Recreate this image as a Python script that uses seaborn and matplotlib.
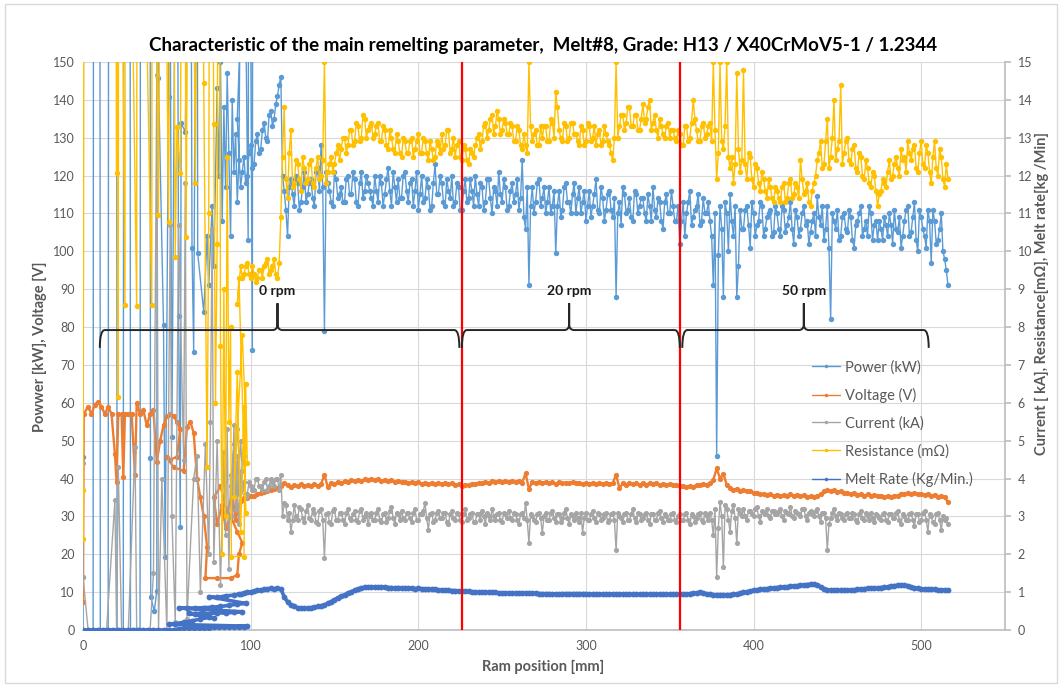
import numpy as np
import matplotlib
matplotlib.use("Agg")
import matplotlib.pyplot as plt
import seaborn as sns
from matplotlib.path import Path
from matplotlib.patches import PathPatch, Rectangle
from matplotlib.lines import Line2D

sns.set_theme(style="white")
plt.rcParams["font.family"] = ["Lato", "DejaVu Sans"]

# ---------------- data ----------------
TITLE = "Characteristic of the main remelting parameter,  Melt#8, Grade: H13 / X40CrMoV5-1 / 1.2344"
X_LABEL = "Ram position [mm]"
Y_LEFT_LABEL = "Powwer [kW], Voltage [V]"
Y_RIGHT_LABEL = "Current [ kA], Resistance[mΩ], Melt rate[kg /Min]"
SERIES_NAMES = ["Power (kW)", "Voltage (V)", "Current (kA)", "Resistance (mΩ)", "Melt Rate (Kg/Min.)"]

# sampling positions of the stable part of the melt (every 2 mm, plus the in-between samples)
RAM_MAIN = np.arange(94, 517, 2)
RAM_MID = np.arange(95, 516, 2)

# start-up phase (unstable arc) : (ram position, value)
POWER_START = [(0, 45.7), (0, 0), (3, 0), (6, 0), (6.3, 250), (10, 250), (10.3, 0), (13, 0), (15, 0),
               (15.3, 250), (20, 250), (20.3, 0), (22, 0), (24, 0), (24.3, 250), (28, 250), (28.3, 0),
               (31, 0), (34, 0), (34.3, 250), (40, 250), (40.2, 45.4), (40.4, 8.8), (42.5, 4.9), (44, 10.4),
               (44.3, 250), (45, 145.7), (48, 80.5), (49, 19.4), (51, 140.7), (51.3, 250), (53, 51), (56, 250),
               (57, 83), (58, 27.3), (58.5, 133.9), (61, 131.5), (64, 250), (65, 101), (66, 73.5), (68, 250),
               (68.4, 99.5), (72, 84), (74, 104), (75, 91), (77, 112), (78, 96), (80, 143), (81, 120), (82, 150),
               (83, 108), (84, 138), (85, 117), (86, 147), (87, 126), (88, 104), (89, 140), (90, 121), (91, 131),
               (92, 113), (93, 124), (95, 250), (98.5, 103), (99, 250), (101, 74), (101.3, 250), (92, 135)]
VOLT_START = [(0, 7.5), (0, 14), (0.4, 57), (3, 59), (5, 57), (7, 59.5), (9, 60.3), (11, 59), (13, 57), (15, 59),
              (17, 57), (19, 46.5), (20, 39), (21, 57), (23, 57), (24, 40.4), (25, 57), (27, 57), (29, 57),
              (31, 40.9), (32, 60), (34, 57), (36, 58), (38, 54), (40, 57), (42, 58), (44, 44.4), (46, 50),
              (48, 54), (50, 56.5), (52, 57), (54, 56.5), (56, 55), (58, 53), (56, 45.7), (52, 45), (50, 45.7),
              (54, 43), (60, 42), (62, 53.6), (64, 55), (66, 52), (68, 40), (70, 35), (72, 30), (74, 22),
              (73, 13.7), (80, 13.7), (88, 13.7), (92, 14.5), (93, 20), (95, 23), (92, 26), (88, 30), (85, 27),
              (83, 33), (80, 28), (78, 35), (82, 38), (86, 31), (89, 36), (91, 29), (93, 33), (94, 34)]
CURR_START = [(0, 4.4), (0, 1.4), (3, 0), (8, 0), (14, 0), (19, 3.43), (20, 0), (21, 4.3), (23, 0), (27, 0),
              (31, 4.84), (32, 0), (36, 0), (40, 0), (42, 1.5), (44, 14.65), (45, 0), (47, 4.0), (50, 0),
              (52, 10.7), (53, 3.0), (55, 0.2), (57, 10.7), (60, 4.5), (61, 11.8), (62, 0.3), (66, 4.0),
              (68, 4.6), (70, 1.0), (73, 4.9), (75, 2.0), (76, 5.5), (77, 10.6), (78, 1.8), (80, 5.0), (82, 1.2),
              (84, 4.7), (85, 2.5), (86, 5.3), (87, 1.6), (88, 4.1), (89, 3.0), (90, 5.4), (91, 3.2), (92, 4.6),
              (93, 3.6), (88, 3.8), (90, 4.9), (92, 3.3), (94, 5.0), (95, 4.2), (93, 2.8), (91, 4.4), (89, 3.5),
              (92, 5.3), (94, 3.9), (96, 4.6), (97, 3.5)]
RES_START = [(0, 3.7), (0, 2.4), (1, 30), (19, 30), (20, 12.06), (20.3, 30), (21, 6.15), (21.3, 30), (25, 8.58),
             (25.3, 30), (32, 8.56), (32.3, 30), (41, 8.58), (41.3, 30), (45, 10.96), (47, 30), (51, 10.78),
             (53, 30), (55, 9.86), (56, 13.29), (58, 12.06), (60, 30), (61.5, 10.39), (64, 30), (67, 11.8),
             (70, 30), (72, 14.44), (74, 4.3), (75, 11.0), (76, 30), (78, 13.35), (79, 6.0), (80, 10.2), (81, 30),
             (82, 7.5), (83, 2.0), (84, 9.0), (85, 3.0), (86, 12.5), (87, 5.5), (88, 8.0), (88.5, 1.94),
             (96, 1.94), (97, 6.5), (98, 4.4), (95, 7.8), (90, 3.5), (92, 6.8), (94, 2.6), (96, 5.9), (97, 3.1),
             (93, 9.3), (92, 8.6)]
MELT_START = [(0, 0), (3, 0), (6, 0), (9, 0), (12, 0), (15, 0), (18, 0), (21, 0), (24, 0), (27, 0), (30, 0),
              (33, 0), (36, 0), (39, 0), (42, 0), (45, 0), (48, 0), (51, 0), (54, 0), (57, 0.03), (60, 0.04),
              (63, 0.04), (66, 0.05), (69, 0.05), (72, 0.06), (75, 0.06), (78, 0.07), (81, 0.07), (84, 0.08),
              (87, 0.08), (90, 0.08), (93, 0.09), (96, 0.09), (98, 0.1), (51, 0.15), (55, 0.17), (60, 0.2),
              (65, 0.24), (70, 0.29), (75, 0.33), (78, 0.31), (63, 0.44), (67, 0.43), (71, 0.45), (75, 0.42),
              (80, 0.46), (85, 0.44), (90, 0.47), (95, 0.48), (57, 0.58), (62, 0.58), (67, 0.58), (72, 0.59),
              (77, 0.6), (82, 0.62), (87, 0.65), (92, 0.68), (97, 0.7), (75, 0.88), (80, 0.86), (85, 0.9),
              (90, 0.92), (93, 0.95)]

# stable part, one value per RAM_MAIN position
POWER_MAIN = [117, 125, 120, 128, 123, 131, 127, 134, 129, 137,
              135, 141, 146, 116, 104, 119, 112, 118, 113, 121,
              115, 119, 112, 122, 128, 79, 118, 113, 121, 114,
              117, 113, 120, 115, 119, 112, 121, 116, 118, 114,
              120, 113, 118, 115, 122, 112, 117, 119, 114, 121,
              113, 119, 116, 111, 120, 114, 117, 112, 123, 115,
              118, 112, 116, 120, 113, 117, 111, 119, 114, 116,
              120, 112, 117, 113, 119, 110, 116, 121, 113, 117,
              112, 118, 115, 111, 124, 106, 91, 117, 113, 119,
              114, 110, 117, 112, 99.5, 116, 111, 118, 113, 115,
              110, 117, 113, 108, 116, 112, 119, 110, 114, 111,
              116, 109, 88, 113, 117, 110, 114, 108, 115, 112,
              114, 108, 112, 117, 109, 113, 106, 115, 110, 112,
              108, 102, 113, 110, 116, 109, 112, 107, 114, 110,
              108, 91, 46, 112, 88, 110, 115, 104, 88, 111,
              106, 112, 101, 110, 107, 113, 104, 109, 111, 105,
              110, 104, 111, 107, 113, 102, 109, 106, 112, 108,
              105, 110, 114.5, 107, 103, 112, 82, 108, 111, 104,
              110, 105, 109, 101, 108, 112, 106, 104, 110, 107,
              103, 106, 109, 104, 107, 111, 105, 101, 108, 112,
              105, 113, 100, 109, 104, 111, 97, 108, 103, 110,
              98, 91]
POWER_MID = [121, 118, 126, 122, 129, 126, 132, 130, 136, 133,
             139, 144, 120, 111, 117, 115, 120, 111, 117, 113,
             118, 114, 121, 116, 117, 121, 116, 112, 119, 115,
             113, 119, 115, 121, 113, 118, 114, 120, 116, 112,
             116, 120, 112, 119, 116, 121, 113, 114, 120, 116,
             118, 112, 121, 115, 113, 119, 111, 118, 115, 120,
             113, 119, 114, 112, 118, 111, 116, 113, 119, 112,
             115, 118, 111, 119, 114, 117, 112, 115, 119, 111,
             116, 113, 119, 114, 109, 117, 112, 110, 118, 112,
             117, 113, 110, 116, 112, 109, 117, 113, 110, 118,
             114, 110, 116, 112, 109, 115, 111, 117, 108, 115,
             111, 114, 110, 107, 115, 111, 109, 116, 110, 114,
             110, 115, 108, 111, 114, 108, 113, 110, 116, 108,
             112, 108, 104, 113, 107, 111, 115, 108, 110, 113,
             104, 110, 99, 106, 113, 100, 108, 112, 96, 106,
             111, 107, 113, 104, 108, 112, 106, 110, 104, 112,
             106, 112, 105, 109, 106, 111, 104, 110, 107, 102,
             108, 104, 109, 112, 106, 101, 110, 106, 103, 109,
             106, 111, 103, 107, 110, 104, 108, 112, 103, 108,
             108, 103, 107, 110, 102, 106, 109, 104, 111, 104,
             109, 103, 111, 106, 101, 108, 111, 102, 106, 100,
             95]
VOLT_MAIN = [34.3, 34.8, 34.9, 35.5, 35.4, 36.0, 36.1, 36.5, 36.6, 37.0,
             37.1, 37.6, 37.9, 38.9, 38.2, 37.7, 38.3, 37.9, 38.5, 38.0,
             38.4, 37.9, 38.5, 38.1, 38.6, 40.9, 37.8, 38.7, 38.6, 39.1,
             38.9, 39.3, 39.1, 39.5, 39.3, 39.7, 39.4, 39.8, 39.5, 39.8,
             39.5, 39.8, 39.4, 39.7, 39.3, 39.6, 39.2, 39.4, 39.0, 39.2,
             38.8, 39.1, 38.7, 39.0, 38.6, 38.9, 38.6, 38.9, 38.5, 38.8,
             38.6, 38.8, 38.5, 38.7, 38.3, 38.5, 38.1, 38.4, 38.2, 38.6,
             38.5, 38.9, 38.8, 39.2, 38.9, 39.3, 39.0, 39.3, 39.0, 39.4,
             39.1, 39.3, 39.0, 39.3, 38.9, 41.4, 37.2, 39.1, 38.8, 39.1,
             38.8, 39.1, 38.7, 39.0, 38.6, 39.0, 38.7, 38.9, 38.7, 39.0,
             38.7, 38.9, 38.6, 38.9, 38.6, 38.9, 38.5, 38.8, 38.6, 38.8,
             38.5, 38.8, 41.0, 37.5, 38.7, 38.4, 38.8, 38.5, 38.7, 38.4,
             38.7, 38.4, 38.8, 38.5, 38.7, 38.3, 38.6, 38.4, 38.6, 38.2,
             38.3, 37.9, 38.1, 37.7, 38.0, 37.8, 38.3, 38.2, 38.6, 38.4,
             38.8, 39.6, 42.7, 40.0, 41.2, 38.4, 37.6, 37.0, 37.3, 36.8,
             37.0, 36.6, 36.7, 36.2, 36.3, 35.8, 36.0, 35.6, 35.8, 35.5,
             35.7, 35.4, 35.7, 35.5, 35.8, 35.4, 35.7, 35.3, 35.6, 35.2,
             35.4, 35.0, 35.5, 35.8, 36.6, 37.0, 36.7, 36.9, 36.4, 36.6,
             36.1, 36.3, 35.9, 36.1, 35.7, 35.9, 35.5, 35.8, 35.4, 35.7,
             35.3, 35.5, 35.1, 35.4, 35.1, 35.5, 35.5, 36.0, 36.0, 36.3,
             36.0, 36.2, 35.8, 36.0, 35.6, 35.8, 35.5, 35.7, 35.2, 35.4,
             35.0, 33.8]
CURR_MAIN = [3.7, 3.9, 3.6, 3.8, 3.7, 4.0, 3.8, 3.9, 3.7, 4.0,
             3.8, 4.0, 4.1, 3.35, 2.9, 2.6, 3.3, 2.9, 3.2, 2.85,
             3.3, 2.9, 3.1, 2.8, 3.2, 1.9, 3.1, 2.8, 3.2, 2.9,
             3.1, 2.8, 3.2, 2.9, 3.15, 2.85, 3.2, 3.0, 2.8, 3.1,
             2.9, 3.2, 2.85, 3.1, 2.95, 3.25, 2.8, 3.05, 3.15, 2.9,
             3.1, 2.85, 3.2, 2.9, 3.05, 3.35, 2.65, 3.1, 2.9, 3.15,
             2.95, 3.1, 2.8, 3.15, 2.9, 3.05, 2.85, 3.2, 2.95, 3.1,
             2.85, 3.05, 3.15, 2.8, 3.0, 3.2, 2.9, 3.1, 2.85, 3.05,
             3.15, 2.9, 3.05, 2.8, 3.1, 3.35, 2.3, 3.0, 2.85, 3.1,
             2.56, 3.1, 2.9, 3.15, 2.85, 3.05, 2.95, 3.2, 2.8, 3.0,
             3.1, 2.85, 2.57, 3.1, 2.9, 3.15, 2.85, 3.05, 2.95, 3.1,
             2.9, 3.1, 2.1, 3.0, 2.85, 3.1, 2.9, 3.2, 2.85, 3.05,
             2.95, 3.1, 2.8, 3.05, 2.9, 3.15, 2.85, 3.0, 2.9, 3.1,
             2.85, 3.05, 2.9, 3.1, 2.8, 3.0, 2.95, 3.1, 2.85, 3.0,
             3.1, 2.5, 1.4, 3.38, 1.65, 3.2, 2.6, 3.3, 2.3, 3.1,
             3.2, 2.9, 3.15, 3.0, 3.25, 2.85, 3.1, 3.2, 2.95, 3.15,
             3.05, 3.2, 2.9, 3.1, 3.25, 2.95, 3.1, 3.0, 3.2, 2.9,
             3.15, 3.0, 3.2, 2.85, 3.1, 2.1, 2.95, 3.2, 2.9, 3.05,
             2.9, 3.1, 2.95, 3.05, 2.85, 3.15, 2.9, 3.0, 3.1, 2.85,
             3.0, 2.9, 3.1, 2.85, 3.05, 2.95, 3.15, 2.8, 3.0, 2.9,
             3.1, 2.75, 3.05, 2.9, 3.15, 2.6, 3.0, 2.8, 3.1, 2.65,
             2.9, 2.8]
CURR_MID = [3.8, 3.6, 3.9, 3.7, 4.0, 3.8, 3.7, 4.0, 3.8, 3.9,
            4.0, 3.7, 3.0, 3.3, 3.1, 2.9, 3.0, 3.25, 2.95, 3.15,
            2.95, 3.2, 2.85, 3.15, 2.9, 3.05, 2.85, 3.15, 2.9, 3.1,
            2.9, 3.1, 2.95, 3.05, 2.9, 3.15, 2.9, 3.1, 3.0, 2.9,
            3.1, 2.9, 3.05, 2.85, 3.15, 2.95, 3.1, 2.9, 2.95, 3.1,
            2.95, 3.1, 2.9, 3.05, 3.15, 2.95, 3.05, 2.85, 3.1, 2.95,
            3.1, 2.85, 3.05, 2.95, 3.1, 2.9, 3.05, 2.9, 3.05, 2.85,
            3.05, 2.9, 3.0, 3.1, 2.9, 3.0, 3.05, 2.9, 3.1, 2.95,
            2.95, 3.1, 2.9, 3.05, 2.95, 2.9, 3.05, 2.9, 3.05, 2.95,
            3.0, 2.9, 3.1, 2.95, 3.05, 2.85, 3.1, 2.95, 3.05, 2.9,
            2.95, 3.1, 2.95, 2.9, 3.05, 2.95, 3.1, 2.9, 3.05, 2.85,
            3.05, 2.9, 3.1, 2.95, 3.05, 2.9, 3.05, 2.95, 3.1, 2.9,
            3.05, 2.9, 3.05, 2.9, 3.1, 2.95, 3.05, 2.9, 3.05, 2.9,
            3.0, 2.9, 3.05, 2.9, 3.05, 2.85, 3.05, 2.9, 3.1, 2.9,
            2.9, 3.2, 2.7, 3.0, 3.3, 2.9, 3.15, 2.95, 3.2, 3.0,
            3.0, 3.15, 3.05, 3.2, 3.0, 3.15, 3.05, 3.0, 3.15, 3.05,
            3.15, 3.0, 3.15, 3.05, 3.0, 3.15, 3.05, 3.2, 3.0, 3.1,
            3.05, 3.15, 3.0, 3.1, 2.95, 2.8, 3.1, 3.0, 3.1, 2.95,
            3.05, 2.95, 3.1, 2.9, 3.05, 2.95, 3.1, 2.9, 2.95, 3.05,
            2.95, 3.05, 2.9, 3.05, 2.95, 3.1, 2.9, 3.05, 2.9, 3.05,
            2.9, 3.05, 2.85, 3.1, 2.9, 3.05, 2.85, 3.05, 2.9, 3.0,
            2.95]
RES_MAIN = [9.6, 9.4, 9.7, 9.3, 9.4, 9.3, 9.5, 9.6, 9.8, 9.5,
            9.8, 9.3, 10.9, 13.8, 11.4, 13.2, 11.8, 12.3, 11.6, 12.2,
            11.9, 12.4, 11.7, 12.5, 12.0, 15.0, 12.1, 12.5, 12.3, 12.8,
            12.7, 13.0, 12.8, 13.2, 12.9, 13.3, 13.0, 13.5, 13.2, 13.4,
            13.1, 13.4, 12.9, 13.2, 12.7, 13.0, 12.6, 12.9, 12.5, 12.9,
            12.6, 13.0, 12.7, 13.1, 12.6, 12.9, 12.4, 12.7, 12.5, 12.8,
            13.1, 12.8, 13.2, 12.7, 12.5, 12.9, 12.4, 12.7, 12.3, 12.6,
            12.8, 13.1, 12.9, 13.4, 13.2, 13.6, 13.3, 13.5, 13.2, 13.4,
            13.1, 13.3, 12.9, 13.2, 12.7, 12.8, 15.0, 12.9, 13.2, 12.8,
            13.0, 13.3, 12.9, 13.4, 14.2, 13.2, 12.9, 13.3, 13.0, 13.4,
            13.1, 12.8, 13.2, 12.9, 13.3, 13.0, 12.8, 13.2, 12.9, 13.1,
            12.8, 12.4, 15.0, 13.3, 13.6, 13.4, 13.8, 13.3, 13.6, 13.2,
            13.9, 13.5, 14.0, 13.4, 13.2, 13.5, 13.1, 13.3, 13.0, 13.2,
            12.9, 13.1, 12.8, 13.3, 13.0, 14.0, 13.2, 12.9, 13.4, 13.1,
            13.4, 15.0, 11.9, 15.0, 12.7, 15.0, 12.2, 11.8, 14.7, 12.1,
            14.8, 11.9, 12.5, 11.7, 12.2, 11.6, 11.9, 11.4, 11.7, 11.3,
            11.6, 11.3, 11.8, 11.4, 11.9, 11.5, 11.7, 12.4, 11.5, 11.8,
            11.2, 11.8, 12.4, 12.9, 12.3, 13.5, 12.5, 14.0, 12.7, 14.4,
            12.6, 13.0, 12.3, 12.8, 12.1, 12.5, 11.9, 12.2, 11.7, 12.0,
            11.2, 11.6, 11.8, 12.1, 11.9, 12.3, 12.2, 12.7, 12.5, 12.9,
            12.4, 12.8, 12.1, 12.9, 12.2, 12.6, 11.8, 12.9, 12.0, 12.5,
            11.7, 11.9]
RES_MID = [9.3, 9.6, 9.4, 9.6, 9.2, 9.5, 9.3, 9.7, 9.4, 9.6,
           9.4, 9.7, 12.5, 11.9, 12.6, 11.7, 12.4, 11.9, 12.5, 11.8,
           12.3, 11.8, 12.2, 11.9, 12.4, 11.8, 12.3, 12.1, 12.6, 12.4,
           13.0, 12.6, 13.2, 12.8, 13.4, 12.9, 13.6, 13.0, 13.3, 13.0,
           13.3, 12.9, 13.3, 12.8, 13.2, 12.7, 13.1, 12.6, 13.0, 12.6,
           12.9, 12.5, 12.9, 12.6, 13.0, 12.6, 12.9, 12.4, 12.9, 12.6,
           12.7, 13.2, 12.6, 13.0, 12.8, 12.5, 12.8, 12.4, 12.7, 12.5,
           13.0, 12.7, 13.3, 13.0, 13.5, 13.1, 13.7, 13.1, 13.5, 13.1,
           13.4, 12.9, 13.3, 12.8, 13.1, 12.6, 13.3, 13.1, 12.8, 13.3,
           13.3, 12.9, 13.5, 13.0, 13.8, 13.0, 13.4, 12.9, 13.4, 13.1,
           12.9, 13.3, 12.8, 13.4, 12.9, 13.3, 13.1, 12.8, 13.3, 12.9,
           12.6, 13.0, 13.0, 13.6, 13.2, 13.8, 13.3, 13.6, 13.2, 13.5,
           13.4, 13.8, 13.2, 13.6, 13.0, 13.3, 13.0, 13.4, 13.2, 13.0,
           13.2, 12.8, 13.3, 12.9, 13.4, 13.5, 12.9, 13.3, 13.0, 13.3,
           12.9, 13.2, 12.6, 12.9, 13.3, 12.5, 12.5, 12.3, 12.7, 12.4,
           12.3, 12.6, 11.9, 12.3, 11.8, 12.1, 11.6, 11.9, 11.4, 11.7,
           11.4, 11.7, 11.3, 11.8, 11.4, 11.8, 11.4, 11.9, 11.6, 11.3,
           11.6, 12.0, 12.6, 12.2, 12.9, 12.2, 13.0, 12.4, 12.9, 12.3,
           12.9, 12.4, 12.7, 12.2, 12.6, 12.0, 12.4, 11.8, 12.1, 11.6,
           11.5, 11.9, 11.7, 12.4, 12.0, 12.5, 12.0, 12.4, 12.1, 12.6,
           12.7, 12.2, 12.6, 12.3, 12.8, 12.1, 12.5, 12.2, 12.7, 11.9,
           12.3]
MELT_MAIN = [0.95, 0.98, 1.0, 1.0, 1.02, 1.05, 1.05, 1.07, 1.08, 1.1,
             1.08, 1.1, 1.08, 0.88, 0.74, 0.66, 0.62, 0.59, 0.57, 0.57,
             0.58, 0.59, 0.6, 0.62, 0.64, 0.66, 0.7, 0.75, 0.8, 0.85,
             0.89, 0.93, 0.97, 1.01, 1.05, 1.08, 1.11, 1.13, 1.14, 1.14,
             1.14, 1.14, 1.13, 1.13, 1.12, 1.12, 1.11, 1.12, 1.11, 1.11,
             1.1, 1.1, 1.09, 1.1, 1.09, 1.08, 1.08, 1.07, 1.07, 1.06,
             1.06, 1.05, 1.05, 1.04, 1.04, 1.03, 1.03, 1.02, 1.02, 1.01,
             1.01, 1.0, 1.0, 1.0, 0.99, 0.99, 0.99, 0.98, 0.98, 0.98,
             0.98, 0.98, 0.97, 0.97, 0.97, 0.98, 0.98, 0.97, 0.97, 0.96,
             0.96, 0.96, 0.96, 0.95, 0.95, 0.95, 0.96, 0.96, 0.96, 0.96,
             0.96, 0.96, 0.96, 0.96, 0.95, 0.95, 0.95, 0.95, 0.95, 0.95,
             0.95, 0.95, 0.95, 0.95, 0.94, 0.94, 0.94, 0.94, 0.94, 0.94,
             0.94, 0.94, 0.94, 0.94, 0.94, 0.94, 0.94, 0.94, 0.94, 0.94,
             0.94, 0.94, 0.95, 0.95, 0.96, 0.97, 0.98, 0.99, 0.98, 0.96,
             0.94, 0.93, 0.92, 0.92, 0.92, 0.92, 0.93, 0.94, 0.95, 0.97,
             0.99, 1.01, 1.03, 1.05, 1.06, 1.07, 1.08, 1.09, 1.1, 1.11,
             1.12, 1.13, 1.14, 1.14, 1.15, 1.16, 1.17, 1.18, 1.19, 1.2,
             1.21, 1.21, 1.19, 1.14, 1.09, 1.06, 1.05, 1.05, 1.05, 1.05,
             1.05, 1.05, 1.06, 1.06, 1.07, 1.08, 1.09, 1.1, 1.1, 1.1,
             1.11, 1.12, 1.13, 1.14, 1.16, 1.17, 1.18, 1.19, 1.19, 1.17,
             1.14, 1.11, 1.1, 1.09, 1.08, 1.08, 1.07, 1.07, 1.06, 1.06,
             1.06, 1.06]

# rotation-speed phases (ram position ranges) and their separators
PHASE_START = [10, 226, 357.5]
PHASE_END = [224.5, 356, 504.5]
PHASE_TIP = [116, 290, 430]
PHASE_LABELS = ["0 rpm", "20 rpm", "50 rpm"]
PHASE_BORDERS = [226, 356]

# ---------------- style ----------------
COLORS = ["#5B9BD5", "#ED7D31", "#A5A5A5", "#FFC000", "#4472C4"]
LINE_W = [1.0, 1.7, 1.0, 1.0, 2.6]
MARK_S = [3.9, 3.8, 3.7, 3.9, 4.2]
TXT = "#595959"
GRID = "#D9D9D9"

assert len(RAM_MAIN) == 212 and len(RAM_MID) == 211
for arr in (POWER_MAIN, VOLT_MAIN, CURR_MAIN, RES_MAIN, MELT_MAIN):
    assert len(arr) == 212, len(arr)
for arr in (POWER_MID, CURR_MID, RES_MID):
    assert len(arr) == 211, len(arr)


def build(start, main, mid=None):
    xs, ys = zip(*start)
    if mid is None:
        xm, ym = RAM_MAIN, np.asarray(main, float)
    else:
        xm = np.empty(len(main) + len(mid))
        ym = np.empty(len(main) + len(mid))
        xm[0::2], xm[1::2] = RAM_MAIN, RAM_MID
        ym[0::2], ym[1::2] = main, mid
    return np.concatenate([xs, xm]), np.concatenate([ys, ym])


fig = plt.figure(figsize=(10.62, 6.9), dpi=100)
ax = fig.add_axes([0.0782, 0.0870, 0.8681, 0.8232])
ax2 = ax.twinx()

handles = []
left_specs = [(POWER_START, POWER_MAIN, POWER_MID, 0), (VOLT_START, VOLT_MAIN, None, 1)]
right_specs = [(CURR_START, CURR_MAIN, CURR_MID, 2), (RES_START, RES_MAIN, RES_MID, 3),
               (MELT_START, MELT_MAIN, None, 4)]
for target, specs in ((ax, left_specs), (ax2, right_specs)):
    for start, main, mid, i in specs:
        x, y = build(start, main, mid)
        sns.lineplot(x=x, y=y, ax=target, sort=False, estimator=None, color=COLORS[i],
                     linewidth=LINE_W[i], marker="o", markersize=MARK_S[i], markeredgewidth=0)
        handles.append(Line2D([0], [0], color=COLORS[i], lw=1.0, marker="o", markersize=2.5,
                              markeredgewidth=0, label=SERIES_NAMES[i]))

ax.set_xlim(0, 550)
ax.set_ylim(0, 150)
ax2.set_ylim(0, 15)
ax.set_xticks(np.arange(0, 501, 100))
ax.set_yticks(np.arange(0, 151, 10))
ax2.set_yticks(np.arange(0, 16, 1))
ax.set_xlabel("")
ax.set_ylabel("")
ax2.set_ylabel("")
ax.grid(True, color=GRID, lw=0.8)
ax.set_axisbelow(True)
for s in ["top", "left", "right"]:
    ax.spines[s].set_visible(False)
ax.spines["bottom"].set_color("#BFBFBF")
for s in ["top", "left", "bottom"]:
    ax2.spines[s].set_visible(False)
ax2.spines["right"].set_color("#BFBFBF")
ax.tick_params(axis="both", length=0, labelsize=9, labelcolor=TXT)
ax.tick_params(axis="y", pad=6)
ax.tick_params(axis="x", pad=7)
ax2.tick_params(axis="y", length=4, color="#BFBFBF", labelsize=9, labelcolor=TXT, pad=5)

# phase separators
for xb in PHASE_BORDERS:
    ax2.axvline(xb, color="#FF0000", lw=1.6, zorder=10)

# curly braces with labels (drawn in left-axis units)
y0, ye, yt, ry, r = 79.2, 74.5, 86.3, 1.6, 3.0
for xa, xb, xt, lab in zip(PHASE_START, PHASE_END, PHASE_TIP, PHASE_LABELS):
    verts = [(xa, ye), (xa, y0), (xa + r, y0), (xt - r, y0), (xt, y0), (xt, y0 + ry), (xt, yt),
             (xt, y0 + ry), (xt, y0), (xt + r, y0), (xb - r, y0), (xb, y0), (xb, ye)]
    codes = [Path.MOVETO, Path.CURVE3, Path.CURVE3, Path.LINETO, Path.CURVE3, Path.CURVE3, Path.LINETO,
             Path.LINETO, Path.CURVE3, Path.CURVE3, Path.LINETO, Path.CURVE3, Path.CURVE3]
    ax2.add_patch(PathPatch(Path(verts, codes), fill=False, ec="#262626", lw=1.4,
                            transform=ax.transData, zorder=11))
    ax2.text(xt, 89.5, lab, transform=ax.transData, ha="center", va="center",
             fontsize=10, fontweight="bold", color="#1a1a1a", zorder=12)

leg = ax2.legend(handles=handles, loc="upper left", bbox_to_anchor=(812 / 1062, 1 - 360 / 690),
                 bbox_transform=fig.transFigure, frameon=False, fontsize=10.5, labelspacing=0.92,
                 handlelength=1.9, handletextpad=0.35, borderpad=0, borderaxespad=0)
for t in leg.get_texts():
    t.set_color(TXT)

fig.text(543 / 1062, 1 - 45 / 690, TITLE, ha="center", va="center", fontsize=13.5,
         fontweight="bold", color="black")
fig.text(40 / 1062, 1 - 347 / 690, Y_LEFT_LABEL, rotation=90, ha="center", va="center",
         fontsize=10.5, fontweight="bold", color=TXT)
fig.text(1042 / 1062, 1 - 293 / 690, Y_RIGHT_LABEL, rotation=90, ha="center", va="center",
         fontsize=10.5, fontweight="bold", color=TXT)
fig.text(543 / 1062, 1 - 667 / 690, X_LABEL, ha="center", va="center",
         fontsize=10.5, fontweight="bold", color=TXT)

fig.patches.append(Rectangle((5 / 1062, 7 / 690), 1052 / 1062, 679 / 690, transform=fig.transFigure,
                             fill=False, ec="#D9D9D9", lw=1.0))

fig.savefig("out.png", dpi=100)
